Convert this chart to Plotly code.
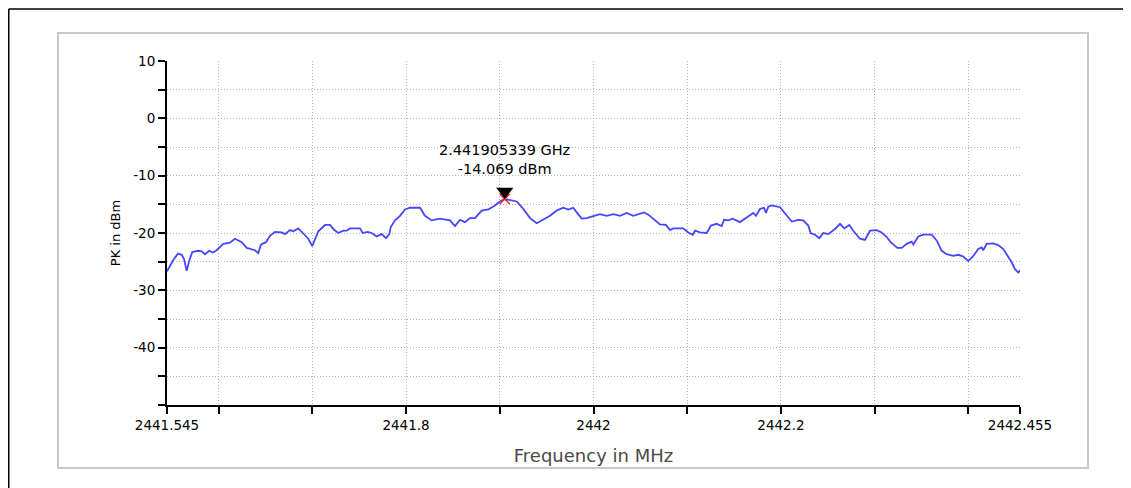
import plotly.graph_objects as go

# Spectrum trace (frequency in MHz, peak level in dBm)
freq_mhz = [
    2441.5450, 2441.5517, 2441.5567, 2441.5607, 2441.5631, 2441.5660, 2441.5688, 2441.5720,
    2441.5784, 2441.5820, 2441.5855, 2441.5901, 2441.5938, 2441.5973, 2441.6051, 2441.6122,
    2441.6175, 2441.6247, 2441.6300, 2441.6335, 2441.6389, 2441.6424, 2441.6453, 2441.6506,
    2441.6549, 2441.6602, 2441.6674, 2441.6709, 2441.6762, 2441.6797, 2441.6851, 2441.6898,
    2441.6957, 2441.7000, 2441.7029, 2441.7064, 2441.7136, 2441.7189, 2441.7224, 2441.7277,
    2441.7331, 2441.7367, 2441.7402, 2441.7509, 2441.7538, 2441.7587, 2441.7634, 2441.7687,
    2441.7740, 2441.7786, 2441.7822, 2441.7836, 2441.7882, 2441.7936, 2441.7989, 2441.8042,
    2441.8149, 2441.8202, 2441.8274, 2441.8362, 2441.8469, 2441.8522, 2441.8576, 2441.8629,
    2441.8682, 2441.8736, 2441.8807, 2441.8878, 2441.8949, 2441.9002, 2441.9053, 2441.9127,
    2441.9181, 2441.9251, 2441.9323, 2441.9394, 2441.9464, 2441.9536, 2441.9607, 2441.9678,
    2441.9731, 2441.9784, 2441.9821, 2441.9874, 2441.9927, 2441.9998, 2442.0069, 2442.0141,
    2442.0211, 2442.0283, 2442.0354, 2442.0425, 2442.0496, 2442.0539, 2442.0585, 2442.0656,
    2442.0709, 2442.0773, 2442.0816, 2442.0851, 2442.0958, 2442.1011, 2442.1058, 2442.1083,
    2442.1136, 2442.1208, 2442.1253, 2442.1314, 2442.1368, 2442.1392, 2442.1438, 2442.1485,
    2442.1563, 2442.1634, 2442.1705, 2442.1733, 2442.1776, 2442.1819, 2442.1840, 2442.1865,
    2442.1901, 2442.1990, 2442.2061, 2442.2114, 2442.2185, 2442.2238, 2442.2291, 2442.2317,
    2442.2363, 2442.2409, 2442.2451, 2442.2505, 2442.2576, 2442.2630, 2442.2675, 2442.2729,
    2442.2771, 2442.2843, 2442.2896, 2442.2950, 2442.3021, 2442.3074, 2442.3128, 2442.3170,
    2442.3241, 2442.3288, 2442.3341, 2442.3394, 2442.3412, 2442.3465, 2442.3518, 2442.3608,
    2442.3661, 2442.3714, 2442.3768, 2442.3838, 2442.3892, 2442.3945, 2442.3998, 2442.4052,
    2442.4105, 2442.4141, 2442.4158, 2442.4195, 2442.4265, 2442.4318, 2442.4372, 2442.4425,
    2442.4461, 2442.4496, 2442.4532, 2442.4550,
]
level_dbm = [
    -26.7, -24.7, -23.6, -23.8, -24.5, -26.6, -24.8, -23.3,
    -23.1, -23.2, -23.7, -23.1, -23.4, -23.1, -21.9, -21.7,
    -21.0, -21.6, -22.6, -22.8, -23.0, -23.5, -22.0, -21.6,
    -20.5, -19.8, -19.9, -20.2, -19.5, -19.7, -19.2, -20.0,
    -21.0, -22.3, -21.0, -19.7, -18.6, -18.6, -19.3, -20.0,
    -19.6, -19.6, -19.2, -19.2, -20.0, -19.8, -20.0, -20.6,
    -20.2, -20.9, -20.2, -19.0, -17.8, -17.0, -15.9, -15.6,
    -15.6, -17.0, -17.8, -17.5, -17.8, -18.8, -17.7, -18.1,
    -17.4, -17.4, -16.1, -15.9, -15.2, -14.5, -14.069, -14.3,
    -14.5, -15.8, -17.4, -18.3, -17.7, -17.0, -16.1, -15.6,
    -15.9, -15.6, -16.4, -17.5, -17.4, -17.1, -16.7, -17.0,
    -16.7, -17.0, -16.5, -17.0, -16.7, -16.4, -16.8, -17.8,
    -18.5, -18.6, -19.5, -19.2, -19.2, -19.9, -20.3, -19.6,
    -19.9, -20.0, -18.7, -18.4, -18.8, -17.7, -17.8, -17.5,
    -18.1, -17.3, -16.5, -17.0, -15.8, -15.6, -16.5, -15.4,
    -15.2, -15.5, -17.0, -18.0, -17.7, -17.8, -18.7, -20.0,
    -20.3, -20.9, -20.0, -20.2, -19.3, -18.4, -19.2, -18.6,
    -19.6, -21.0, -21.2, -19.6, -19.5, -19.9, -20.7, -21.6,
    -22.6, -22.6, -21.9, -21.5, -22.0, -20.6, -20.3, -20.3,
    -21.3, -23.1, -23.7, -24.0, -23.8, -24.1, -24.9, -24.0,
    -22.8, -22.5, -23.0, -21.9, -21.8, -22.1, -22.8, -24.1,
    -25.1, -26.3, -26.9, -26.5,
]

# Marker
marker_freq_mhz = 2441.905339
marker_level_dbm = -14.069
marker_label = "2.441905339 GHz<br>-14.069 dBm"

# Axes
x_range = [2441.545, 2442.455]
y_range = [-50, 10]
x_tick_vals = [2441.545, 2441.6, 2441.7, 2441.8, 2441.9, 2442.0, 2442.1, 2442.2, 2442.3, 2442.4, 2442.455]
x_tick_text = ["2441.545", "", "", "2441.8", "", "2442", "", "2442.2", "", "", "2442.455"]
y_tick_vals = [-50, -45, -40, -35, -30, -25, -20, -15, -10, -5, 0, 5, 10]
y_tick_text = ["", "", "-40", "", "-30", "", "-20", "", "-10", "", "0", "", "10"]

# The page has an 8px body margin, so the figure is laid out 8px in from the window.
OFF = 8
W, H = 1131 - OFF, 488 - OFF
L, R, T, B = 167 - OFF, 1020 - OFF, 61 - OFF, 405 - OFF


def px(x):
    return (x - OFF - L) / (R - L)


def py(y):
    return (B - (y - OFF)) / (B - T)


fig = go.Figure()
fig.add_trace(go.Scatter(
    x=freq_mhz, y=level_dbm, mode="lines",
    line=dict(color="#4646FF", width=1.8), hoverinfo="skip", showlegend=False,
))
# red cross at the marker point
fig.add_trace(go.Scatter(
    x=[marker_freq_mhz], y=[marker_level_dbm], mode="markers",
    marker=dict(symbol="x-thin", size=10, line=dict(color="#FF2020", width=1.5)),
    showlegend=False, hoverinfo="skip",
))
# black triangle just above the point
fig.add_trace(go.Scatter(
    x=[marker_freq_mhz], y=[marker_level_dbm + 1.3], mode="markers",
    marker=dict(symbol="triangle-down", size=15, color="black"),
    showlegend=False, hoverinfo="skip",
))

font_family = "DejaVu Sans, Verdana, sans-serif"

fig.add_annotation(
    x=marker_freq_mhz, y=marker_level_dbm, text=marker_label, showarrow=False,
    xanchor="center", yanchor="bottom", yshift=20,
    font=dict(family=font_family, size=14.5, color="black"), align="center",
)

grid_dash = "1px,2px"

fig.update_layout(
    width=W, height=H,
    margin=dict(l=L, r=W - R, t=T, b=H - B),
    paper_bgcolor="white", plot_bgcolor="white",
    font=dict(family=font_family, color="black"),
    xaxis=dict(
        range=x_range, tickvals=x_tick_vals, ticktext=x_tick_text,
        showline=True, linecolor="black", linewidth=2,
        ticks="outside", ticklen=7, tickwidth=2, tickcolor="black",
        showgrid=True, gridcolor="#b4b4b4", griddash=grid_dash, gridwidth=1,
        zeroline=False, tickfont=dict(size=13.5, color="black"),
        title=dict(text="Frequency in MHz", font=dict(size=18, color="#4a4a4a"), standoff=17),
    ),
    yaxis=dict(
        range=y_range, tickvals=y_tick_vals, ticktext=y_tick_text,
        showline=True, linecolor="black", linewidth=2,
        ticks="outside", ticklen=7, tickwidth=2, tickcolor="black",
        showgrid=True, gridcolor="#b4b4b4", griddash=grid_dash, gridwidth=1,
        zeroline=False, tickfont=dict(size=13.5, color="black"),
        title=dict(text="PK in dBm", font=dict(size=13, color="black"), standoff=10),
    ),
    shapes=[
        # outer black frame (top and left edges visible)
        dict(type="line", xref="paper", yref="paper", x0=px(8.75), x1=px(1131), y0=py(9), y1=py(9),
             line=dict(color="black", width=1.5), layer="above"),
        dict(type="line", xref="paper", yref="paper", x0=px(8.75), x1=px(8.75), y0=py(9), y1=py(488),
             line=dict(color="black", width=1.5), layer="above"),
        # inner gray panel
        dict(type="rect", xref="paper", yref="paper", x0=px(58), x1=px(1088), y0=py(468), y1=py(33),
             line=dict(color="#c8c8c8", width=2), layer="below"),
    ],
)

fig.write_html("out.html")
